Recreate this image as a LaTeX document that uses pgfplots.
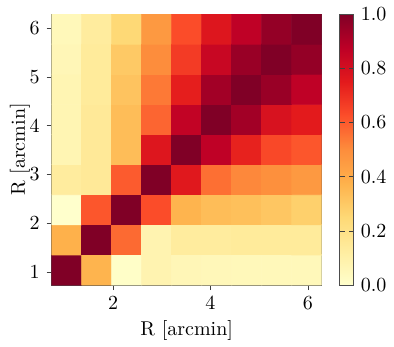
\documentclass[border=0pt]{standalone}
\usepackage{pgfplots}
\pgfplotsset{compat=1.18}
\usepackage{pgfplotstable}
\usetikzlibrary{calc}
\pgfplotstableread{
i j c
0 0 1.00
1 0 0.37
2 0 0.01
3 0 0.08
4 0 0.06
5 0 0.055
6 0 0.05
7 0 0.05
8 0 0.05
0 1 0.38
1 1 1.00
2 1 0.57
3 1 0.08
4 1 0.13
5 1 0.13
6 1 0.14
7 1 0.14
8 1 0.14
0 2 0.00
1 2 0.61
2 2 1.00
3 2 0.63
4 2 0.37
5 2 0.34
6 2 0.33
7 2 0.31
8 2 0.28
0 3 0.13
1 3 0.15
2 3 0.60
3 3 1.00
4 3 0.76
5 3 0.56
6 3 0.51
7 3 0.49
8 3 0.46
0 4 0.07
1 4 0.15
2 4 0.34
3 4 0.77
4 4 1.00
5 4 0.87
6 4 0.73
7 4 0.64
8 4 0.61
0 5 0.07
1 5 0.15
2 5 0.34
3 5 0.58
4 5 0.86
5 5 1.00
6 5 0.93
7 5 0.79
8 5 0.75
0 6 0.07
1 6 0.14
2 6 0.32
3 6 0.54
4 6 0.74
5 6 0.93
6 6 1.00
7 6 0.95
8 6 0.87
0 7 0.06
1 7 0.14
2 7 0.30
3 7 0.50
4 7 0.67
5 7 0.84
6 7 0.95
7 7 1.00
8 7 0.96
0 8 0.05
1 8 0.13
2 8 0.25
3 8 0.46
4 8 0.63
5 8 0.77
6 8 0.87
7 8 0.96
8 8 1.00
}\corrtable
\begin{document}
\begin{tikzpicture}
\begin{axis}[
  name=main,
  scale only axis,
  width=135pt, height=135.5pt,
  xmin=0.74, xmax=6.285, ymin=0.74, ymax=6.285,
  xtick={2,4,6}, ytick={1,2,3,4,5,6},
  tick align=outside, xtick pos=bottom, ytick pos=left,
  major tick length=2.5pt,
  axis line style={black!70},
  tick style={black!75},
  xlabel={R [arcmin]}, ylabel={R [arcmin]},
  ylabel shift=-7pt, xlabel shift=-1.5pt,
  colormap={ylorrd}{rgb255=(255,255,204) rgb255=(255,237,160) rgb255=(254,217,118) rgb255=(254,178,76) rgb255=(253,141,60) rgb255=(252,78,42) rgb255=(227,26,28) rgb255=(189,0,38) rgb255=(128,0,38)},
  point meta min=0, point meta max=1,
  colorbar,
  colorbar style={
    width=7pt,
    at={(parent axis.north east)}, anchor=north west, xshift=0.5pt,
    ytick={0,0.2,0.4,0.6,0.8,1.0},
    yticklabel style={/pgf/number format/.cd, fixed, fixed zerofill, precision=1},
    axis line style={black!70},
    tick style={black!75},
    major tick length=2.5pt,
  },
]
\addplot[matrix plot*, mesh/cols=9, point meta=explicit]
  table[x expr={1.048+0.6161*\thisrow{i}}, y expr={1.048+0.6161*\thisrow{j}}, meta=c] {\corrtable};
\end{axis}
\pgfresetboundingbox
\path[use as bounding box] ($(main.south west)+(-25.85pt,-30.5pt)$) rectangle ($(main.north east)+(36.15pt,7pt)$);
\end{tikzpicture}
\end{document}
